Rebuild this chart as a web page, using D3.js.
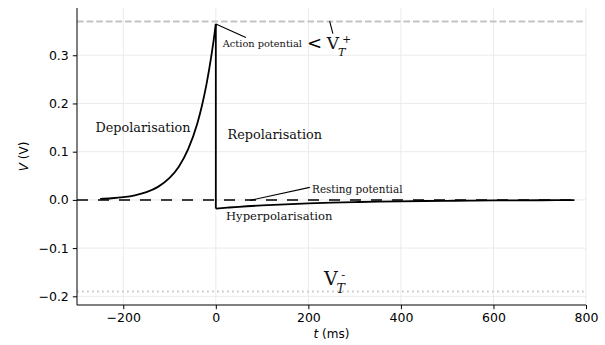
<!DOCTYPE html>
<html>
<head>
<meta charset="utf-8">
<script src="https://cdn.jsdelivr.net/npm/d3@7"></script>
<style>
  html, body { margin: 0; padding: 0; background: #fff; }
  svg { display: block; }
  .tick text { font-family: "DejaVu Sans", sans-serif; font-size: 12.5px; fill: #000; }
  .ann { font-family: "DejaVu Serif", serif; fill: #111; }
</style>
</head>
<body>
<svg id="chart" width="605" height="345"></svg>
<script>
// ---- data ----
const depolT = [-250, -225, -200, -175, -150, -125, -100, -80, -60, -40, -30, -20, -10, -5, 0];
const depolV = [0.0020, 0.0034, 0.0057, 0.0095, 0.0160, 0.0270, 0.0455, 0.0689, 0.1046, 0.1586, 0.1953, 0.2406, 0.2964, 0.3290, 0.365];
const repolT = [0, 25, 50, 100, 150, 200, 250, 300, 350, 400, 450, 500, 550, 600, 650, 700, 775];
const repolV = [-0.018, -0.0161, -0.0143, -0.0114, -0.0091, -0.0073, -0.0058, -0.0046, -0.0037, -0.0029, -0.0023, -0.0019, -0.0015, -0.0012, -0.0009, -0.0007, -0.0005];
const restT = [-300, 775];
const restV = [0, 0];
const thresholdPlus = 0.37;
const thresholdMinus = -0.19;
const xTicks = [-200, 0, 200, 400, 600, 800];
const yTicks = [-0.2, -0.1, 0.0, 0.1, 0.2, 0.3];
const xDomain = [-300, 800];
const yDomain = [-0.218, 0.398];

// ---- layout ----
const W = 605, H = 345;
const m = { left: 77, right: 19, top: 8, bottom: 40 };
const svg = d3.select("#chart");
const x = d3.scaleLinear().domain(xDomain).range([m.left, W - m.right]);
const y = d3.scaleLinear().domain(yDomain).range([H - m.bottom, m.top]);

// grid
const grid = svg.append("g").attr("stroke", "#ebebeb").attr("stroke-width", 1);
xTicks.forEach(t => grid.append("line")
  .attr("x1", x(t)).attr("x2", x(t)).attr("y1", y.range()[1]).attr("y2", y.range()[0]));
yTicks.forEach(v => grid.append("line")
  .attr("x1", x.range()[0]).attr("x2", x.range()[1]).attr("y1", y(v)).attr("y2", y(v)));

// threshold lines
svg.append("line")
  .attr("x1", x.range()[0]).attr("x2", x.range()[1])
  .attr("y1", y(thresholdPlus)).attr("y2", y(thresholdPlus))
  .attr("stroke", "#c4c4c4").attr("stroke-width", 1.8).attr("stroke-dasharray", "6.7,2.9");
svg.append("line")
  .attr("x1", x.range()[0]).attr("x2", x.range()[1])
  .attr("y1", y(thresholdMinus)).attr("y2", y(thresholdMinus))
  .attr("stroke", "#cccccc").attr("stroke-width", 1.8).attr("stroke-dasharray", "1.8,3.2");

// resting dashed line
const lin = d3.line().x(d => x(d[0])).y(d => y(d[1]));
svg.append("path")
  .datum(restT.map((t, i) => [t, restV[i]]))
  .attr("d", lin)
  .attr("fill", "none").attr("stroke", "#000").attr("stroke-width", 1.5)
  .attr("stroke-dasharray", "11,10");

// action potential curve
const smooth = d3.line().x(d => x(d[0])).y(d => y(d[1])).curve(d3.curveMonotoneX);
const depol = depolT.map((t, i) => [t, depolV[i]]);
const repol = repolT.map((t, i) => [t, repolV[i]]);
const curveG = svg.append("g").attr("fill", "none").attr("stroke", "#000").attr("stroke-width", 1.8)
  .attr("stroke-linejoin", "round");
curveG.append("path").datum(depol).attr("d", smooth);
curveG.append("path").datum([depol[depol.length - 1], repol[0]]).attr("d", lin);
curveG.append("path").datum(repol).attr("d", smooth);

// axes
const xAxis = svg.append("g").attr("transform", `translate(0,${H - m.bottom})`)
  .call(d3.axisBottom(x).tickValues(xTicks).tickSize(4.2).tickPadding(4)
    .tickFormat(d => d < 0 ? "\u2212" + Math.abs(d) : d));
const yAxis = svg.append("g").attr("transform", `translate(${m.left},0)`)
  .call(d3.axisLeft(y).tickValues(yTicks).tickSize(4.2).tickPadding(4)
    .tickFormat(d => (d < 0 ? "\u2212" : "") + Math.abs(d).toFixed(1)));
[xAxis, yAxis].forEach(a => {
  a.select(".domain").attr("stroke", "#000").attr("stroke-width", 1);
  a.selectAll(".tick line").attr("stroke", "#000").attr("stroke-width", 1);
});
xAxis.select(".domain").attr("d", `M${x.range()[0]},0H${x.range()[1]}`);
yAxis.select(".domain").attr("d", `M0,${y.range()[0]}V${y.range()[1]}`);

// axis labels
const xl = svg.append("text").attr("x", (x.range()[0] + x.range()[1]) / 2).attr("y", 338)
  .attr("text-anchor", "middle").attr("font-family", "DejaVu Sans").attr("font-size", 12);
xl.append("tspan").attr("font-style", "italic").text("t");
xl.append("tspan").text(" (ms)");
const yl = svg.append("text")
  .attr("transform", `translate(28,${(y.range()[0] + y.range()[1]) / 2}) rotate(-90)`)
  .attr("text-anchor", "middle").attr("font-family", "DejaVu Sans").attr("font-size", 12);
yl.append("tspan").attr("font-style", "italic").text("V");
yl.append("tspan").text(" (V)");

// annotations
function label(t, v, txt, size) {
  return svg.append("text").attr("class", "ann").attr("x", x(t)).attr("y", y(v))
    .attr("font-size", size).text(txt);
}
label(-260, 0.141, "Depolarisation", 12.8);
label(25.5, 0.126, "Repolarisation", 12.8);
label(22, -0.042, "Hyperpolarisation", 11.6);
label(15, 0.318, "Action potential", 9.8);
label(208, 0.014, "Resting potential", 10.4);

const leader = svg.append("g").attr("stroke", "#000").attr("stroke-width", 1.1);
function lead(t1, v1, t2, v2) {
  leader.append("line").attr("x1", x(t1)).attr("y1", y(v1)).attr("x2", x(t2)).attr("y2", y(v2));
}
lead(0, 0.365, 65, 0.337);
lead(74, -0.001, 203, 0.026);
lead(246, 0.371, 253, 0.345);

// "<" marker
svg.append("text").attr("x", x(197)).attr("y", y(0.313))
  .attr("font-family", "DejaVu Sans").attr("font-size", 18).attr("fill", "#000").text("<");

// V_T^+ and V_T^- as single text elements with sub/superscripts
function vt(t, v, sign, size) {
  const k = size / 17;
  const txt = svg.append("text").attr("class", "ann").attr("x", x(t)).attr("y", y(v))
    .attr("font-size", size).attr("fill", "#000");
  txt.append("tspan").text("V");
  txt.append("tspan").attr("font-size", size * 0.66).attr("font-style", "italic")
    .attr("dx", -1.2 * k).attr("dy", 7.2 * k).text("T");
  txt.append("tspan").attr("font-size", size * 0.62)
    .attr("dx", -3.2 * k).attr("dy", -13.2 * k).text(sign);
}
vt(240, 0.313, "+", 17);
vt(234, -0.177, "-", 19);
</script>
</body>
</html>
